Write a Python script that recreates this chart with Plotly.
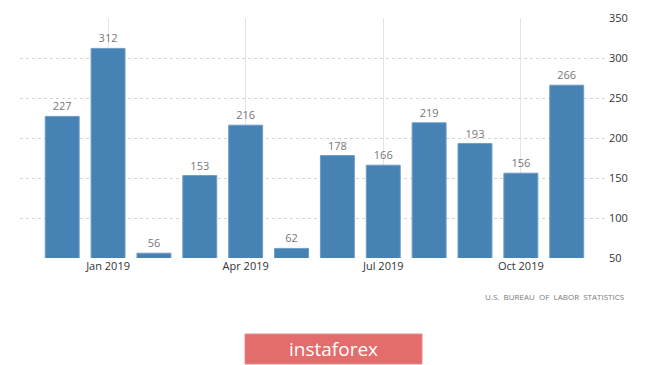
import plotly.graph_objects as go

months = ["Dec 2018", "Jan 2019", "Feb 2019", "Mar 2019", "Apr 2019", "May 2019",
          "Jun 2019", "Jul 2019", "Aug 2019", "Sep 2019", "Oct 2019", "Nov 2019"]
values = [227, 312, 56, 153, 216, 62, 178, 166, 219, 193, 156, 266]
tick_idx = [1, 4, 7, 10]
tick_text = ["Jan 2019", "Apr 2019", "Jul 2019", "Oct 2019"]
y_ticks = [50, 100, 150, 200, 250, 300, 350]

x = list(range(len(months)))

# page body has an 8px margin: plot area in figure pixels
L, R, T, B = 12, 600, 10, 250
W, H = R - L, B - T
OFF = 8


def px(xr):
    return (xr - OFF - L) / W


def py(yr):
    return (B - (yr - OFF)) / H


fig = go.Figure()
fig.add_trace(go.Bar(
    x=x, y=values, width=0.74,
    marker=dict(color="#4682b4", line=dict(color="#6f9cc4", width=1)),
    text=[str(v) for v in values], textposition="outside",
    textfont=dict(color="#777777", size=11, family="Open Sans"),
    cliponaxis=False, hovertext=months,
))

fig.update_layout(
    width=665, height=365,
    margin=dict(l=L, r=665 - R, t=T, b=365 - B),
    paper_bgcolor="white", plot_bgcolor="white",
    showlegend=False,
    font=dict(family="Open Sans", color="#333333"),
    xaxis=dict(
        range=[-0.92, 11.9], automargin=False,
        tickmode="array", tickvals=tick_idx, ticktext=tick_text,
        showgrid=True, gridcolor="#e4e4e4", gridwidth=1,
        zeroline=False, showline=False, ticks="",
        tickfont=dict(size=11, color="#333333"),
    ),
    yaxis=dict(
        range=[50, 350], side="right", automargin=False,
        tickmode="array", tickvals=y_ticks,
        showgrid=True, gridcolor="#d4d4d4", griddash="dot",
        zeroline=False, showline=False, ticks="",
        tickfont=dict(size=11, color="#333333"),
    ),
)

fig.add_annotation(
    text="U.S.  BUREAU  OF  LABOR  STATISTICS",
    xref="paper", yref="paper", x=px(626), y=py(296),
    xanchor="right", yanchor="middle", showarrow=False,
    font=dict(size=8, color="#7a7a7a", family="Open Sans"),
)

fig.add_shape(
    type="rect", xref="paper", yref="paper",
    x0=px(245), x1=px(422), y0=py(364), y1=py(334),
    fillcolor="#e36c6c", line=dict(color="#e88a8a", width=1), layer="above",
)
fig.add_annotation(
    text="instaforex", xref="paper", yref="paper",
    x=px(333.5), y=py(349),
    xanchor="center", yanchor="middle", showarrow=False,
    font=dict(size=19, color="white", family="Open Sans"),
)

fig.write_html("out.html")
